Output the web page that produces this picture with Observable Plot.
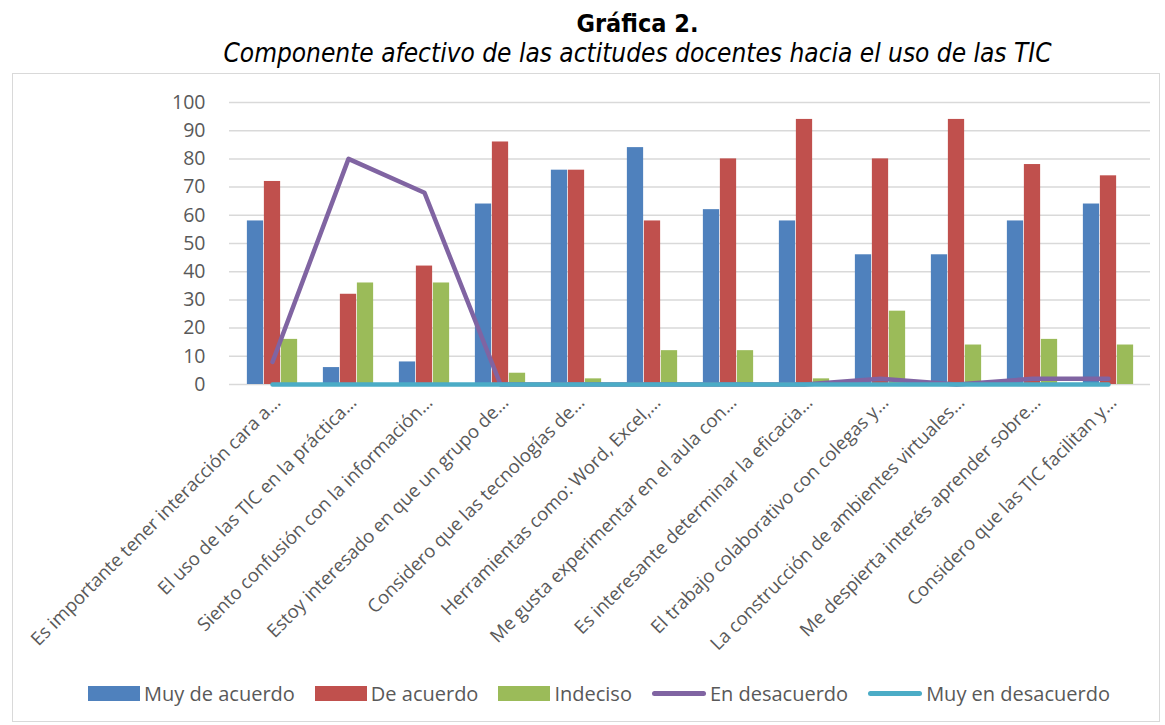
<!DOCTYPE html>
<html>
<head>
<meta charset="utf-8">
<script src="https://cdn.jsdelivr.net/npm/d3@7"></script>
<script src="https://cdn.jsdelivr.net/npm/@observablehq/plot@0.6"></script>
<style>
  html, body { margin: 0; padding: 0; background: #fff; }
  #page { position: relative; width: 1165px; height: 725px; overflow: hidden; font-family: "Open Sans", sans-serif; }
  #title { position: absolute; left: 110px; width: 1055px; top: 9px; text-align: center; font-family: "DejaVu Sans Condensed", "DejaVu Sans", sans-serif; color: #000; }
  #title .t1 { font-weight: bold; font-size: 25px; line-height: 30px; }
  #title .t2 { font-style: italic; font-size: 26px; line-height: 29px; }
  #frame { position: absolute; left: 12px; top: 73px; width: 1148px; height: 649px; border: 1px solid #d9d9d9; box-sizing: border-box; }
  #chart { position: absolute; left: 0; top: 0; }
  #legend { position: absolute; left: 0; top: 606px; width: 100%; padding-left: 26px; box-sizing: border-box; display: flex; justify-content: center; align-items: center; gap: 20px; font-size: 20px; color: #595959; font-family: "Open Sans", sans-serif; }
  .item { display: flex; align-items: center; gap: 4px; }
  .sw { display: inline-block; width: 52px; height: 15px; }
  .ln { display: inline-block; width: 54px; height: 5px; border-radius: 3px; }
</style>
</head>
<body>
<div id="page">
  <div id="title"><div class="t1">Gráfica 2.</div><div class="t2">Componente afectivo de las actitudes docentes hacia el uso de las TIC</div></div>
  <div id="frame">
    <div id="chart"></div>
    <div id="legend"></div>
  </div>
</div>
<script>
const categories = [
  "Es importante tener interacción cara a…",
  "El uso de las TIC en la práctica…",
  "Siento confusión con la información…",
  "Estoy interesado en que un grupo de…",
  "Considero que las tecnologías de…",
  "Herramientas como: Word, Excel,…",
  "Me gusta experimentar en el aula con…",
  "Es interesante determinar la eficacia…",
  "El trabajo colaborativo con colegas y…",
  "La construcción de ambientes virtuales…",
  "Me despierta interés aprender sobre…",
  "Considero que las TIC facilitan y…"
];
const seriesNames = ["Muy de acuerdo", "De acuerdo", "Indeciso", "En desacuerdo", "Muy en desacuerdo"];
const muyDeAcuerdo    = [58, 6, 8, 64, 76, 84, 62, 58, 46, 46, 58, 64];
const deAcuerdo       = [72, 32, 42, 86, 76, 58, 80, 94, 80, 94, 78, 74];
const indeciso        = [16, 36, 36, 4, 2, 12, 12, 2, 26, 14, 16, 14];
const enDesacuerdo    = [8, 80, 68, 0, 0, 0, 0, 0, 2, 0, 2, 2];
const muyEnDesacuerdo = [0, 0, 0, 0, 0, 0, 0, 0, 0, 0, 0, 0];
const yTicks = [0, 10, 20, 30, 40, 50, 60, 70, 80, 90, 100];
const colors = ["#4F81BD", "#C0504D", "#9BBB59", "#8064A2", "#4BACC6"];

const barSeries = [muyDeAcuerdo, deAcuerdo, indeciso];
const lineSeries = [enDesacuerdo, muyEnDesacuerdo];

const W = 1146, H = 590, ML = 216, MR = 9, MT = 28, MB = 280;
const bw = (W - ML - MR) / categories.length;
const barW = bw * 0.2215;
const outer = (bw - 3 * barW) / 2;

const marks = [
  Plot.gridY(yTicks, {stroke: "#d9d9d9", strokeOpacity: 1, strokeWidth: 1.5}),
  Plot.axisY({ticks: yTicks, tickSize: 0, tickPadding: 24, fontSize: 19.5, label: null}),
  Plot.axisX({tickRotate: -45, tickSize: 0, tickPadding: 15, dx: 5, fontSize: 18.5, label: null})
];
barSeries.forEach((vals, i) => {
  const data = categories.map((c, j) => ({cat: c, value: vals[j]}));
  marks.push(Plot.barY(data, {
    x: "cat", y: "value", fill: colors[i],
    insetLeft: outer + i * barW, insetRight: bw - outer - (i + 1) * barW
  }));
});
lineSeries.forEach((vals, i) => {
  const data = categories.map((c, j) => ({cat: c, value: vals[j]}));
  marks.push(Plot.lineY(data, {x: "cat", y: "value", stroke: colors[3 + i], strokeWidth: 4.5, strokeLinejoin: "round", strokeLinecap: "round"}));
});

const chart = Plot.plot({
  width: W, height: H,
  marginLeft: ML, marginRight: MR, marginTop: MT, marginBottom: MB,
  x: {domain: categories, padding: 0, axis: null},
  y: {domain: [0, 100], axis: null},
  style: {fontFamily: "Open Sans", color: "#595959", background: "transparent", overflow: "visible"},
  marks
});
document.getElementById("chart").appendChild(chart);

const legend = document.getElementById("legend");
seriesNames.forEach((name, i) => {
  const item = document.createElement("div");
  item.className = "item";
  const sw = document.createElement("span");
  sw.className = i < 3 ? "sw" : "ln";
  sw.style.background = colors[i];
  const label = document.createElement("span");
  label.textContent = name;
  item.appendChild(sw);
  item.appendChild(label);
  legend.appendChild(item);
});
</script>
</body>
</html>
